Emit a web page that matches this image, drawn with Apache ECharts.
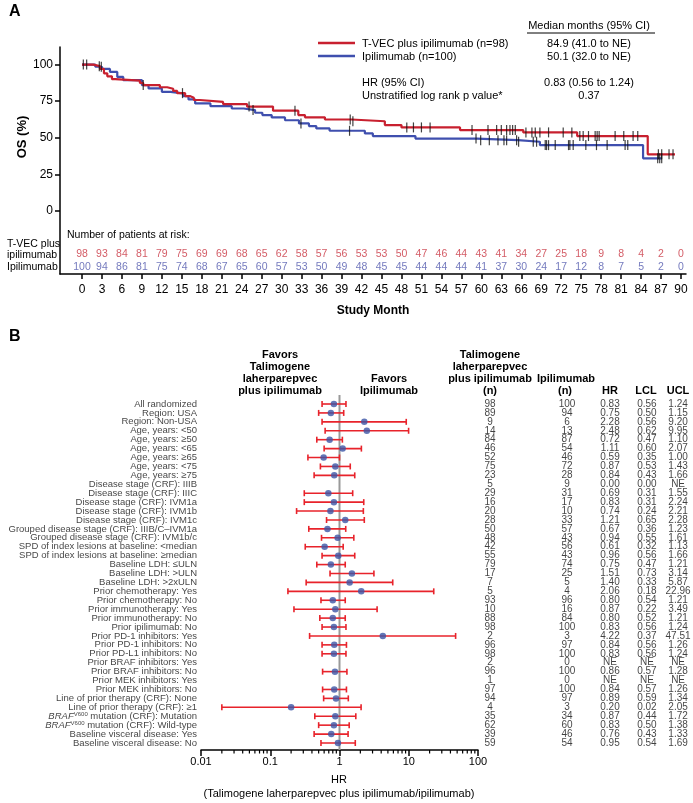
<!DOCTYPE html>
<html><head><meta charset="utf-8">
<script src="https://cdn.jsdelivr.net/npm/echarts@6/dist/echarts.min.js"></script>
<style>html,body{margin:0;padding:0;background:#fff}#c{width:693px;height:803px}</style>
</head><body><div id="c"></div>
<script>
// ---------------- Panel A data ----------------
const monthTicks = [0,3,6,9,12,15,18,21,24,27,30,33,36,39,42,45,48,51,54,57,60,63,66,69,72,75,78,81,84,87,90];
const pctTicks = [0,25,50,75,100];
const tvecKM = [[0,100],[1.7,98.9],[2.7,97],[3.3,94],[3.8,92],[4.5,90],[5,89],[8.7,87.5],[9.2,86],[11.7,84.5],[12.8,83.5],[13.7,82],[14.3,80.5],[15.5,78.5],[16.2,77.3],[16.8,75.8],[17.7,74.5],[21.2,73],[24.8,71.3],[28.7,68.5],[32.5,65.5],[33.5,64],[36.5,62.5],[40.5,61.3],[45.5,58.7],[48,57.1],[56.8,55.3],[66.3,53.7],[74.4,51.2],[85,38.7],[89.1,38.7]];
const ipiKM = [[0,100],[2,98.5],[3,97],[4.2,95],[5.3,91.6],[6.2,89.4],[9,86],[10,83.7],[12,81.4],[13.3,80.3],[15.2,78.4],[16,76.2],[17,73.5],[19.3,71.6],[22.5,70],[24.3,68.9],[26,67.1],[27.1,65.5],[28.5,63.9],[30.5,62],[32.6,59.8],[34.1,58],[35.2,56.4],[37.2,54.8],[42.5,53],[43.7,51.2],[50.1,49.5],[59.3,48.4],[65.5,47.3],[68.8,45],[84.3,36],[87.1,36]];
const tvecCensor = [0.2,0.7,2.6,9.2,15.1,25.1,32.0,40.3,40.7,48.8,49.8,51.0,52.3,58.6,61.0,62.3,63.0,63.8,64.3,64.7,65.1,66.7,67.6,68.1,68.8,70.1,72.3,73.6,74.8,75.3,76.1,77.1,77.4,77.7,80.1,81.4,82.8,83.5,86.6,87.1,88.2,88.8];
const ipiCensor = [2.9,25.7,32.9,40.2,59.2,59.9,61.2,62.5,63.4,63.8,65.3,65.6,67.8,68.3,69.6,69.8,70.1,71.1,73.1,73.3,73.8,75.7,77.3,78.9,81.6,82.0,86.5,86.8,87.1];
const tvecAtRisk = [98,93,84,81,79,75,69,69,68,65,62,58,57,56,53,53,50,47,46,44,43,41,34,27,25,18,9,8,4,2,0];
const ipiAtRisk = [100,94,86,81,75,74,68,67,65,60,57,53,50,49,48,45,45,44,44,44,41,37,30,24,17,12,8,7,5,2,0];

// ---------------- Panel B data ----------------
const subgroups = ["All randomized","Region: USA","Region: Non-USA","Age, years: <50","Age, years: \u226550","Age, years: <65","Age, years: \u226565","Age, years: <75","Age, years: \u226575","Disease stage (CRF): IIIB","Disease stage (CRF): IIIC","Disease stage (CRF): IVM1a","Disease stage (CRF): IVM1b","Disease stage (CRF): IVM1c","Grouped disease stage (CRF): IIIB/C\u2013IVM1a","Grouped disease stage (CRF): IVM1b/c","SPD of index lesions at baseline: <median","SPD of index lesions at baseline: \u2265median","Baseline LDH: \u2264ULN","Baseline LDH: >ULN","Baseline LDH: >2xULN","Prior chemotherapy: Yes","Prior chemotherapy: No","Prior immunotherapy: Yes","Prior immunotherapy: No","Prior ipilimumab: No","Prior PD-1 inhibitors: Yes","Prior PD-1 inhibitors: No","Prior PD-L1 inhibitors: No","Prior BRAF inhibitors: Yes","Prior BRAF inhibitors: No","Prior MEK inhibitors: Yes","Prior MEK inhibitors: No","Line of prior therapy (CRF): None","Line of prior therapy (CRF): \u22651","BRAFV600 mutation (CRF): Mutation","BRAFV600 mutation (CRF): Wild-type","Baseline visceral disease: Yes","Baseline visceral disease: No"];
const nTvec = [98,89,9,14,84,46,52,75,23,5,29,16,20,28,50,48,42,55,79,17,7,5,93,10,88,98,2,96,98,2,96,1,97,94,4,35,62,39,59];
const nIpi = [100,94,6,13,87,54,46,72,28,9,31,17,10,33,57,43,56,43,74,25,5,4,96,16,84,100,3,97,100,0,100,0,100,97,3,34,60,46,54];
const hr  = [0.83,0.75,2.28,2.48,0.72,1.11,0.59,0.87,0.84,0.00,0.69,0.83,0.74,1.21,0.67,0.94,0.61,0.96,0.75,1.51,1.40,2.06,0.80,0.87,0.80,0.83,4.22,0.84,0.83,null,0.86,null,0.84,0.89,0.20,0.87,0.83,0.76,0.95];
const lcl = [0.56,0.50,0.56,0.62,0.47,0.60,0.35,0.53,0.43,0.00,0.31,0.31,0.24,0.65,0.36,0.55,0.32,0.56,0.47,0.73,0.33,0.18,0.54,0.22,0.52,0.56,0.37,0.56,0.56,null,0.57,null,0.57,0.59,0.02,0.44,0.50,0.43,0.54];
const ucl = [1.24,1.15,9.20,9.95,1.10,2.07,1.00,1.43,1.66,null,1.55,2.24,2.21,2.28,1.23,1.61,1.13,1.66,1.21,3.14,5.87,22.96,1.21,3.49,1.21,1.24,47.51,1.26,1.24,null,1.28,null,1.26,1.34,2.05,1.72,1.38,1.33,1.69];
const forestTicks = [0.01,0.1,1,10,100];

// ---------------- layout / style ----------------
const FONT = "'Liberation Sans', Arial, Helvetica, sans-serif";
const RED = '#c8202f', BLUE = '#3f4fae';
const RISK_RED = '#c8323e', RISK_BLUE = '#5058ad';
const BAR_RED = '#e8232b', DOT_BLUE = '#3b55a6';
const RISK_Y_TVEC = -29.3, RISK_Y_IPI = -38.2;
const ROW_MIN = -1.009, ROW_MAX = 38.785;
const colPos = [0.198, 0.502, 0.672, 0.818, 0.941];
const ROW_FS = 9.5;

function survAt(km, t) { let s = km[0][1]; for (const p of km) { if (p[0] <= t) s = p[1]; else break; } return s; }
const fmt = v => v === null ? 'NE' : v.toFixed(2);
const rows = subgroups.map((_, i) => i);

const minorTickVals = [];
for (const d of [0.01, 0.1, 1, 10]) for (let k = 2; k <= 9; k++) minorTickVals.push(+(d * k).toPrecision(3));

const censorData = tvecCensor.map(t => [t, survAt(tvecKM, t)]).concat(ipiCensor.map(t => [t, survAt(ipiKM, t)]));
const barData = []; const dotData = [];
rows.forEach(i => {
  if (hr[i] !== null && hr[i] > 0 && lcl[i] > 0 && ucl[i] !== null) { barData.push([lcl[i], ucl[i], i]); dotData.push([hr[i], i]); }
});

function tableSeries(colIdx, texts) {
  return { type: 'scatter', xAxisIndex: 2, yAxisIndex: 2, symbolSize: 0, silent: true,
    data: rows.map(i => ({ value: [colPos[colIdx], i], name: texts[i] })),
    label: { show: true, position: 'inside', formatter: '{b}', color: '#111', fontSize: 10, fontFamily: FONT } };
}

function txt(x, y, text, opt) {
  opt = opt || {};
  return { type: 'text', x: x, y: y, rotation: opt.rot || 0, silent: true,
    style: { text: text, fill: opt.color || '#000', font: (opt.bold ? 'bold ' : '') + (opt.size || 11) + 'px ' + FONT,
      align: opt.align || 'left', verticalAlign: 'middle' } };
}

const graphics = [
  txt(9, 12, 'A', {bold: true, size: 16}),
  txt(9, 337, 'B', {bold: true, size: 16}),
  txt(22, 137, 'OS (%)', {bold: true, size: 13, align: 'center', rot: Math.PI / 2}),
  txt(589, 26, 'Median months (95% CI)', {align: 'center'}),
  { type: 'line', silent: true, shape: {x1: 527, y1: 33, x2: 655, y2: 33}, style: {stroke: '#000', lineWidth: 1} },
  { type: 'line', silent: true, shape: {x1: 318, y1: 43, x2: 355, y2: 43}, style: {stroke: RED, lineWidth: 2.5} },
  { type: 'line', silent: true, shape: {x1: 318, y1: 56, x2: 355, y2: 56}, style: {stroke: BLUE, lineWidth: 2.5} },
  txt(362, 44, 'T-VEC plus ipilimumab (n=98)'),
  txt(362, 57, 'Ipilimumab (n=100)'),
  txt(589, 44, '84.9 (41.0 to NE)', {align: 'center'}),
  txt(589, 57, '50.1 (32.0 to NE)', {align: 'center'}),
  txt(362, 83, 'HR (95% CI)'),
  txt(362, 96, 'Unstratified log rank p value*'),
  txt(589, 83, '0.83 (0.56 to 1.24)', {align: 'center'}),
  txt(589, 96, '0.37', {align: 'center'}),
  txt(67, 235, 'Number of patients at risk:', {size: 10.5}),
  txt(7, 244, 'T-VEC plus', {size: 10.5}),
  txt(7, 255, 'ipilimumab', {size: 10.5}),
  txt(7, 267, 'Ipilimumab', {size: 10.5}),
  // forest headers
  txt(280, 355, 'Favors', {bold: true, align: 'center'}),
  txt(280, 367, 'Talimogene', {bold: true, align: 'center'}),
  txt(280, 379, 'laherparepvec', {bold: true, align: 'center'}),
  txt(280, 391, 'plus ipilimumab', {bold: true, align: 'center'}),
  txt(389, 379, 'Favors', {bold: true, align: 'center'}),
  txt(389, 391, 'Ipilimumab', {bold: true, align: 'center'}),
  txt(490, 355, 'Talimogene', {bold: true, align: 'center'}),
  txt(490, 367, 'laherparepvec', {bold: true, align: 'center'}),
  txt(490, 379, 'plus ipilimumab', {bold: true, align: 'center'}),
  txt(490, 391, '(n)', {bold: true, align: 'center'}),
  txt(566, 379, 'Ipilimumab', {bold: true, align: 'center'}),
  txt(565, 391, '(n)', {bold: true, align: 'center'}),
  txt(610, 391, 'HR', {bold: true, align: 'center'}),
  txt(646, 391, 'LCL', {bold: true, align: 'center'}),
  txt(678, 391, 'UCL', {bold: true, align: 'center'}),
  txt(339, 780, 'HR', {align: 'center', size: 11}),
  txt(339, 794, '(Talimogene laherparepvec plus ipilimumab/ipilimumab)', {align: 'center', size: 11})
];

const axBlack = { color: '#000', width: 1.5 };
const option = {
  animation: false,
  textStyle: { fontFamily: FONT },
  grid: [
    { left: 60, top: 47, width: 626, height: 227 },
    { left: 201, top: 395, width: 277, height: 355 },
    { left: 440, top: 395, width: 253, height: 355 }
  ],
  xAxis: [
    { gridIndex: 0, type: 'value', min: -3.305, max: 90.75, splitLine: { show: false },
      axisLine: { onZero: false, lineStyle: axBlack },
      axisTick: { customValues: monthTicks, length: 5, lineStyle: axBlack },
      axisLabel: { customValues: monthTicks, fontSize: 12, color: '#000', margin: 10 },
      name: 'Study Month', nameLocation: 'middle', nameGap: 31,
      nameTextStyle: { fontWeight: 'bold', fontSize: 12, color: '#000' } },
    { gridIndex: 1, type: 'log', logBase: 10, min: 0.01, max: 100, splitLine: { show: false },
      axisLine: { onZero: false, lineStyle: axBlack },
      axisTick: { customValues: forestTicks, length: 6, lineStyle: axBlack },
      axisLabel: { customValues: forestTicks, fontSize: 11, color: '#000', margin: 6, showMinLabel: true, showMaxLabel: true,
        formatter: v => String(+(+v).toPrecision(3)) } },
    { gridIndex: 2, type: 'value', min: 0, max: 1, show: false }
  ],
  yAxis: [
    { gridIndex: 0, type: 'value', min: -43, max: 112, splitLine: { show: false },
      axisLine: { show: true, onZero: false, lineStyle: axBlack },
      axisTick: { show: true, customValues: pctTicks, length: 5, lineStyle: axBlack },
      axisLabel: { customValues: pctTicks, fontSize: 12, color: '#000', margin: 7 } },
    { gridIndex: 1, type: 'value', inverse: true, min: ROW_MIN, max: ROW_MAX, show: false },
    { gridIndex: 2, type: 'value', inverse: true, min: ROW_MIN, max: ROW_MAX, show: false }
  ],
  graphic: graphics,
  series: [
    { type: 'line', xAxisIndex: 0, yAxisIndex: 0, step: 'end', data: ipiKM, showSymbol: false, silent: true,
      lineStyle: { color: BLUE, width: 2.2 }, z: 2 },
    { type: 'line', xAxisIndex: 0, yAxisIndex: 0, step: 'end', data: tvecKM, showSymbol: false, silent: true,
      lineStyle: { color: RED, width: 2.2 }, z: 3 },
    { type: 'scatter', xAxisIndex: 0, yAxisIndex: 0, data: censorData, symbol: 'rect', symbolSize: [1.2, 10],
      itemStyle: { color: '#111' }, silent: true, z: 5 },
    { type: 'scatter', xAxisIndex: 0, yAxisIndex: 0, symbolSize: 0, silent: true,
      data: monthTicks.map((m, i) => ({ value: [m, RISK_Y_TVEC], name: String(tvecAtRisk[i]) })),
      label: { show: true, position: 'inside', formatter: '{b}', color: RISK_RED, fontSize: 10.5 } },
    { type: 'scatter', xAxisIndex: 0, yAxisIndex: 0, symbolSize: 0, silent: true,
      data: monthTicks.map((m, i) => ({ value: [m, RISK_Y_IPI], name: String(ipiAtRisk[i]) })),
      label: { show: true, position: 'inside', formatter: '{b}', color: RISK_BLUE, fontSize: 10.5 } },
    // subgroup row labels
    { type: 'scatter', xAxisIndex: 1, yAxisIndex: 1, symbolSize: 0, silent: true, clip: false,
      data: rows.map(i => ({ value: [forestTicks[0], i], name: subgroups[i] })),
      label: { show: true, position: 'left', distance: 4, color: '#111', fontSize: ROW_FS, fontFamily: FONT, align: 'right',
        formatter: p => { const s = p.name;
          if (s.indexOf('BRAFV600') === 0) return '{i|BRAF}{s|V600}{n|' + s.slice(8) + '}'; return s; },
        rich: { i: { fontStyle: 'italic', fontSize: ROW_FS, color: '#111', fontFamily: FONT },
                s: { fontSize: 6, color: '#111', verticalAlign: 'top', fontFamily: FONT },
                n: { fontSize: ROW_FS, color: '#111', fontFamily: FONT } } } },
    { type: 'custom', xAxisIndex: 1, yAxisIndex: 1, data: [[1, ROW_MIN], [1, ROW_MAX]], silent: true, clip: false, z: 1,
      renderItem: (params, api) => {
        if (params.dataIndex !== 0) return null;
        const a = api.coord([1, ROW_MIN]); const b = api.coord([1, ROW_MAX]);
        return { type: 'line', shape: { x1: a[0], y1: a[1], x2: b[0], y2: b[1] }, style: { stroke: '#999', lineWidth: 2 } };
      } },
    { type: 'custom', xAxisIndex: 1, yAxisIndex: 1, data: barData, silent: true, clip: false, z: 3,
      encode: { x: [0, 1], y: 2 },
      renderItem: (params, api) => {
        const a = api.coord([api.value(0), api.value(2)]);
        const b = api.coord([api.value(1), api.value(2)]);
        const st = { stroke: BAR_RED, lineWidth: 1.6 };
        return { type: 'group', children: [
          { type: 'line', shape: { x1: a[0], y1: a[1], x2: b[0], y2: b[1] }, style: st },
          { type: 'line', shape: { x1: a[0], y1: a[1] - 3, x2: a[0], y2: a[1] + 3 }, style: st },
          { type: 'line', shape: { x1: b[0], y1: b[1] - 3, x2: b[0], y2: b[1] + 3 }, style: st }
        ] };
      } },
    { type: 'scatter', xAxisIndex: 1, yAxisIndex: 1, data: dotData, symbolSize: 6.5, silent: true, z: 4,
      itemStyle: { color: DOT_BLUE } },
    { type: 'custom', xAxisIndex: 1, yAxisIndex: 1, data: minorTickVals.map(v => [v, ROW_MAX]), silent: true, clip: false,
      renderItem: (params, api) => {
        const p = api.coord([api.value(0), api.value(1)]);
        return { type: 'line', shape: { x1: p[0], y1: p[1], x2: p[0], y2: p[1] + 3.5 }, style: { stroke: '#000', lineWidth: 1.2 } };
      } },
    tableSeries(0, nTvec.map(String)),
    tableSeries(1, nIpi.map(String)),
    tableSeries(2, hr.map(fmt)),
    tableSeries(3, lcl.map(fmt)),
    tableSeries(4, ucl.map(fmt))
  ]
};
const chart = echarts.init(document.getElementById('c'), null, { renderer: 'canvas' });
chart.setOption(option);
</script></body></html>
